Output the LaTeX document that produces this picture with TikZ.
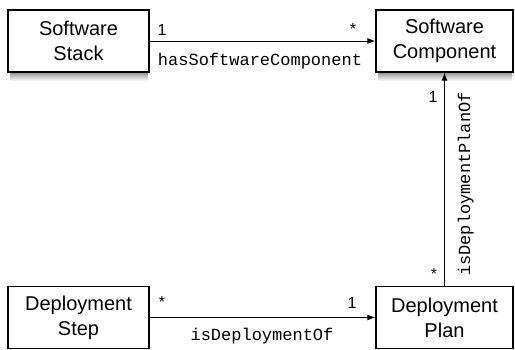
\documentclass[tikz,border=0pt]{standalone}
\usepackage{fontspec}
\setmainfont{Liberation Sans}
\setmonofont{Liberation Mono}
\usetikzlibrary{arrows.meta}

\begin{document}
\begin{tikzpicture} [x=1pt, y=-1pt,
  class/.style={draw, line width=1.2pt, fill=white, align=center, inner sep=0pt, minimum height=62pt,
    font=\fontsize{20}{25}\selectfont},
  mult/.style={anchor=base, inner sep=0pt, font=\fontsize{16}{19}\selectfont},
  role/.style={anchor=base, inner sep=0pt, font=\ttfamily\fontsize{17}{20}\selectfont},
  assoc/.style={line width=1pt, -{Latex[length=8pt, width=6pt]}}] %deployment model
\useasboundingbox (0,0) rectangle (515,349);
% soft shadows under the upper boxes
\foreach \i in {0,...,9} {
  \pgfmathsetmacro\c{48-4.8*\i}
  \fill[black!\c] (10,71+\i) rectangle (148,72+\i);
  \fill[black!\c] (378,71+\i) rectangle (512,72+\i);
}
\node[class, minimum width=141pt] (stack) at (78.5,41) {Software\\Stack};
\node[class, minimum width=137pt] (comp) at (444.5,41) {Software\\Component};
\node[class, minimum width=141pt] (step) at (78.5,317.5) {Deployment\\Step};
\node[class, minimum width=137pt] (plan) at (444.5,317.5) {Deployment\\Plan};
\draw[assoc] (stack) -- (comp);
\draw[assoc] (plan) -- (comp);
\draw[assoc] (step) -- (plan);
\node[mult] (stack1) at (162,35) {1};
\node[mult] (comps) at (353,34) {*};
\node[mult] (comp1) at (433,102) {1};
\node[mult] (plans) at (434,279) {*};
\node[mult] (steps) at (162,307) {*};
\node[mult] (plan1) at (352,308) {1};
\node[role] (has) at (260,65) {hasSoftwareComponent};
\node[role, rotate=90] (isplan) at (470,184) {isDeploymentPlanOf};
\node[role] (isof) at (262,340) {isDeploymentOf};
\end{tikzpicture}
\end{document}
